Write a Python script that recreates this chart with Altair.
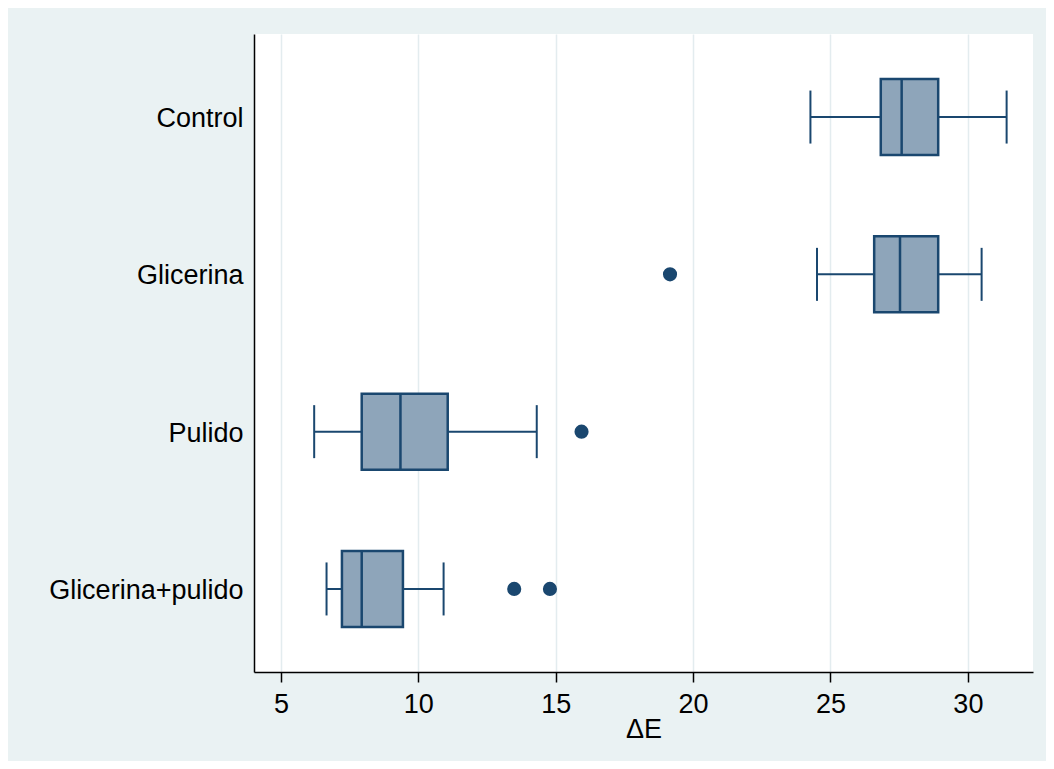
import altair as alt
import pandas as pd

groups = ["Control", "Glicerina", "Pulido", "Glicerina+pulido"]
lower = [24.27, 24.51, 6.21, 6.66]
q1 = [26.83, 26.59, 7.94, 7.22]
median = [27.59, 27.53, 9.35, 7.94]
q3 = [28.92, 28.92, 11.07, 9.44]
upper = [31.41, 30.50, 14.31, 10.92]

outlier_group = ["Glicerina", "Pulido", "Glicerina+pulido", "Glicerina+pulido"]
outlier_value = [19.16, 15.94, 13.49, 14.79]

x_ticks = [5, 10, 15, 20, 25, 30]

df = pd.DataFrame({"group": groups, "lower": lower, "q1": q1, "median": median,
                   "q3": q3, "upper": upper})
dfo = pd.DataFrame({"group": outlier_group, "value": outlier_value})

NAVY = "#1A476F"
FILL = "#8EA5BA"
FONT = "Liberation Sans"

xscale = alt.Scale(domain=[4.02, 32.37], nice=False, zero=False)
yenc = alt.Y("group:N", sort=groups,
             scale=alt.Scale(domain=groups, paddingInner=0, paddingOuter=0.028),
             title=None)


def X(field):
    return alt.X(field, type="quantitative", scale=xscale, title="ΔE",
                 axis=alt.Axis(values=x_ticks))


base = alt.Chart(df)

whisker = base.mark_rule(color=NAVY, strokeWidth=2).encode(
    x=X("lower"), x2="upper", y=yenc)
box = base.mark_bar(fill=FILL, stroke=NAVY, strokeWidth=2.5, size=76).encode(
    x=X("q1"), x2="q3", y=yenc)
med = base.mark_tick(color=NAVY, thickness=2.5, size=76, opacity=1).encode(
    x=X("median"), y=yenc)
cap_lo = base.mark_tick(color=NAVY, thickness=2, size=53, opacity=1).encode(
    x=X("lower"), y=yenc)
cap_hi = base.mark_tick(color=NAVY, thickness=2, size=53, opacity=1).encode(
    x=X("upper"), y=yenc)
outl = alt.Chart(dfo).mark_circle(color=NAVY, size=200, opacity=1).encode(
    x=X("value"), y=yenc)

chart = alt.layer(whisker, box, med, cap_lo, cap_hi, outl).properties(
    width=779, height=638,
    autosize=alt.AutoSizeParams(type="none"),
    padding={"left": 246, "top": 26, "right": 13, "bottom": 89},
    background="#EAF2F3",
).configure_view(
    fill="white", strokeWidth=0
).configure_axis(
    labelFont=FONT, titleFont=FONT, labelColor="black", titleColor="black",
    domainColor="black", tickColor="black", labelFontWeight="normal",
    titleFontWeight="normal",
).configure_axisX(
    labelFontSize=27, titleFontSize=27, domainWidth=1.5, tickWidth=1.5,
    tickSize=10, labelPadding=9, grid=True, gridColor="#E3ECEF", gridWidth=1.5,
    titleY=44, titleBaseline="top",
).configure_axisY(
    labelFontSize=27, domainWidth=1.5, ticks=False, tickSize=0, labelPadding=11,
    labelLimit=0, labelOffset=2, grid=False,
)

chart.save("out.html", embed_options={"renderer": "svg", "actions": False})
